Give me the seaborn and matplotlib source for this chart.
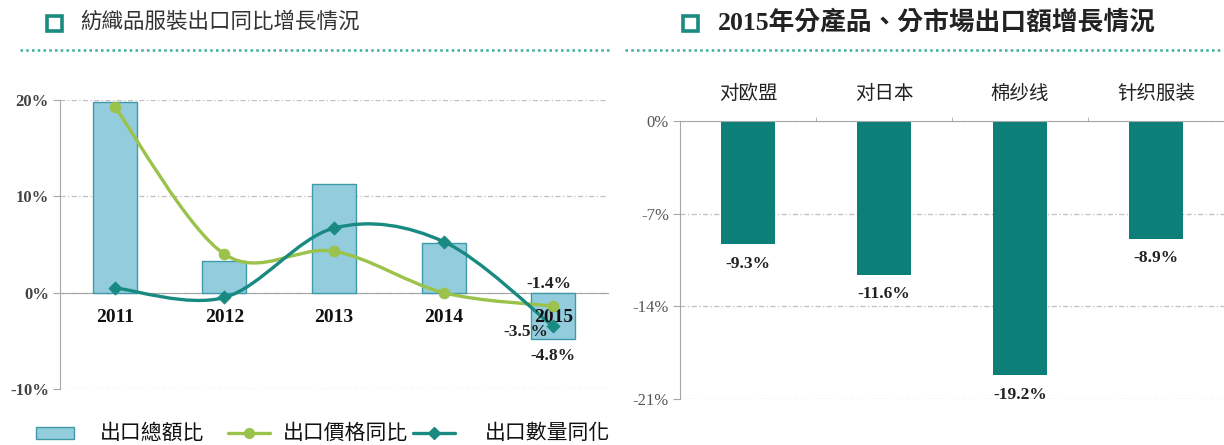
import matplotlib
matplotlib.use("Agg")
import matplotlib.pyplot as plt
from matplotlib.path import Path
from matplotlib.patches import PathPatch, Rectangle
from matplotlib.lines import Line2D
import seaborn as sns
import numpy as np
import pandas as pd

# ---------------- data ----------------
years = ["2011", "2012", "2013", "2014", "2015"]
total_yoy = [19.8, 3.3, 11.3, 5.2, -4.8]      # 出口總額比 (bars)
price_yoy = [19.3, 4.0, 4.3, 0.0, -1.4]       # 出口價格同比 (green line)
qty_yoy = [0.5, -0.5, 6.7, 5.3, -3.5]         # 出口數量同化 (teal line)

markets = ["对欧盟", "对日本", "棉纱线", "针织服装"]
market_growth = [-9.3, -11.6, -19.2, -8.9]

left_title = "紡織品服裝出口同比增長情況"
right_title = "2015年分產品、分市場出口額增長情況"
legend_labels = ["出口總額比", "出口價格同比", "出口數量同化"]

# ---------------- style ----------------
sns.set_style("white")
plt.rcParams["font.family"] = ["Noto Sans CJK TC", "DejaVu Sans"]

BAR_BLUE = "#93CDDD"
BAR_EDGE = "#3E9AA8"
GREEN = "#9BC24A"
TEAL = "#188A82"
TEAL_BAR = "#0B7F78"
GRID = "#BFBFBF"
SPINE = "#A6A6A6"
SERIF = ["Liberation Serif", "Noto Sans CJK TC"]

W, H = 1224, 445
fig = plt.figure(figsize=(W / 100, H / 100), dpi=100)


def fx(x):
    return x / W


def fy(y):
    return 1 - y / H


def smooth_path(xs, ys):
    """Cubic Bezier path through the points (Excel-like smoothed line)."""
    pts = np.column_stack([xs, ys]).astype(float)
    n = len(pts)
    verts = [pts[0]]
    codes = [Path.MOVETO]
    for i in range(n - 1):
        p0 = pts[i - 1] if i > 0 else pts[i]
        p1 = pts[i]
        p2 = pts[i + 1]
        p3 = pts[i + 2] if i + 2 < n else pts[i + 1]
        c1 = p1 + (p2 - p0) / 6.0
        c2 = p2 - (p3 - p1) / 6.0
        verts += [c1, c2, p2]
        codes += [Path.CURVE4] * 3
    return Path(verts, codes)


# ---------------- left chart ----------------
ax1 = fig.add_axes([fx(60), fy(389), fx(608) - fx(60), fy(100) - fy(389)])
df1 = pd.DataFrame({"year": years, "total": total_yoy})
sns.barplot(data=df1, x="year", y="total", color=BAR_BLUE, saturation=1,
            edgecolor=BAR_EDGE, linewidth=1.0, width=0.4, ax=ax1, zorder=2)

idx = np.arange(len(years))
for vals, col in [(price_yoy, GREEN), (qty_yoy, TEAL)]:
    ax1.add_patch(PathPatch(smooth_path(idx, vals), facecolor="none",
                            edgecolor=col, linewidth=2.4, zorder=3,
                            capstyle="round"))
sns.scatterplot(x=idx, y=price_yoy, marker="o", s=60, color=GREEN,
                edgecolor=GREEN, ax=ax1, zorder=4)
sns.scatterplot(x=idx, y=qty_yoy, marker="D", s=45, color=TEAL,
                edgecolor=TEAL, ax=ax1, zorder=4)

for s in ["top", "right"]:
    ax1.spines[s].set_visible(False)
ax1.spines["left"].set_color(SPINE)
ax1.spines["bottom"].set_position(("data", 0))
ax1.spines["bottom"].set_color(SPINE)
ax1.spines["bottom"].set_zorder(1)

ax1.set_xlim(-0.5, 4.5)
ax1.set_ylim(-10, 20)
ax1.set_xlabel("")
ax1.set_ylabel("")
ax1.set_yticks([-10, 0, 10, 20])
ax1.set_yticklabels(["-10%", "0%", "10%", "20%"], fontfamily=SERIF,
                    fontweight="bold", fontsize=12, color="#444444")
ax1.set_xticks(idx)
ax1.set_xticklabels(years, fontfamily=SERIF, fontweight="bold",
                    fontsize=14, color="#111111")
ax1.set_xticks(idx[:-1] + 0.5, minor=True)
ax1.tick_params(axis="x", which="major", length=0, pad=12)
ax1.tick_params(axis="x", which="minor", length=4, color=SPINE,
                direction="out")
ax1.tick_params(axis="y", length=5, color=SPINE, pad=3, direction="out",
                left=True)
ax1.yaxis.grid(True, color=GRID, linestyle=(0, (4, 2, 1, 2)), linewidth=0.9)
ax1.set_axisbelow(True)
ax1.xaxis.set_zorder(3.5)   # year labels drawn over the bars (as "2015")

lab_kw = dict(textcoords="offset points", ha="center", va="center",
              fontfamily=SERIF, fontweight="bold", fontsize=12.5,
              color="#222222", zorder=6)
ax1.annotate(f"{price_yoy[4]:.1f}%", (4, price_yoy[4]), xytext=(-3, 16),
             **lab_kw)
ax1.annotate(f"{qty_yoy[4]:.1f}%", (4, qty_yoy[4]), xytext=(-20, -4),
             **lab_kw)
ax1.annotate(f"{total_yoy[4]:.1f}%", (4, total_yoy[4]), xytext=(0, -12),
             **lab_kw)

# ---------------- right chart ----------------
ax2 = fig.add_axes([fx(680), fy(399), fx(1224) - fx(680), fy(121) - fy(399)])
df2 = pd.DataFrame({"market": markets, "growth": market_growth})
sns.barplot(data=df2, x="market", y="growth", color=TEAL_BAR, saturation=1,
            width=0.39, linewidth=0, ax=ax2, zorder=2)
for s in ["bottom", "right"]:
    ax2.spines[s].set_visible(False)
ax2.spines["left"].set_color(SPINE)
ax2.spines["top"].set_color(SPINE)
ax2.set_xlim(-0.5, 3.5)
ax2.set_ylim(-21, 0)
ax2.set_xlabel("")
ax2.set_ylabel("")
ax2.xaxis.tick_top()
ax2.set_xticks(range(len(markets)))
ax2.set_xticklabels(markets, fontfamily=["Noto Sans CJK SC", "DejaVu Sans"],
                    fontsize=14, color="#222222")
ax2.set_xticks(np.arange(len(markets) - 1) + 0.5, minor=True)
ax2.tick_params(axis="x", which="major", length=0, pad=12)
ax2.tick_params(axis="x", which="minor", length=3, color=SPINE,
                direction="out", top=True, bottom=False)
ax2.set_yticks([0, -7, -14, -21])
ax2.set_yticklabels(["0%", "-7%", "-14%", "-21%"], fontfamily=SERIF,
                    fontsize=12, color="#555555")
ax2.tick_params(axis="y", length=5, color=SPINE, pad=3, direction="out",
                left=True)
ax2.yaxis.grid(True, color=GRID, linestyle=(0, (4, 2, 1, 2)), linewidth=0.9)
ax2.set_axisbelow(True)

for i, v in enumerate(market_growth):
    ax2.annotate(f"{v:.1f}%", (i, v), xytext=(0, -14),
                 textcoords="offset points", ha="center", va="center",
                 fontfamily=SERIF, fontweight="bold", fontsize=12.5,
                 color="#222222", zorder=6)

# ---------------- titles ----------------
for x0 in (47, 683):
    fig.add_artist(Rectangle((fx(x0), fy(31)), fx(15), 15 / H,
                             transform=fig.transFigure, facecolor="white",
                             edgecolor="#1B8A80", linewidth=2.6))
fig.text(fx(80), fy(22), left_title, ha="left", va="center", fontsize=15.5,
         color="#333333", family=["Noto Sans CJK TC", "DejaVu Sans"])
fig.text(fx(718), fy(22), right_title, ha="left", va="center",
         fontsize=18.5, fontweight="bold", color="#222222", family=SERIF)
for x0, x1 in ((20, 612), (625, 1220)):
    fig.add_artist(Line2D([fx(x0), fx(x1)], [fy(50), fy(50)],
                          transform=fig.transFigure, color="#3AAE9C",
                          linewidth=1.8, linestyle=(0, (1, 1.3))))

# ---------------- legend ----------------
ly = 433
fig.add_artist(Rectangle((fx(36), fy(ly + 6)), fx(38), 12 / H,
                         transform=fig.transFigure, facecolor=BAR_BLUE,
                         edgecolor=BAR_EDGE, linewidth=1.0))
for (x0, x1), col, mk, ms in (((228, 270), GREEN, "o", 7),
                              ((413, 455), TEAL, "D", 6)):
    fig.add_artist(Line2D([fx(x0), fx(x1)], [fy(ly), fy(ly)],
                          transform=fig.transFigure, color=col, linewidth=2.4))
    fig.add_artist(Line2D([fx((x0 + x1) / 2)], [fy(ly)],
                          transform=fig.transFigure, color=col, marker=mk,
                          markersize=ms, linestyle="none"))
for x0, txt in zip((100, 283, 485), legend_labels):
    fig.text(fx(x0), fy(ly), txt, ha="left", va="center", fontsize=15,
             color="#111111", family=["Noto Sans CJK TC", "DejaVu Sans"])

fig.savefig("out.png", dpi=100)
